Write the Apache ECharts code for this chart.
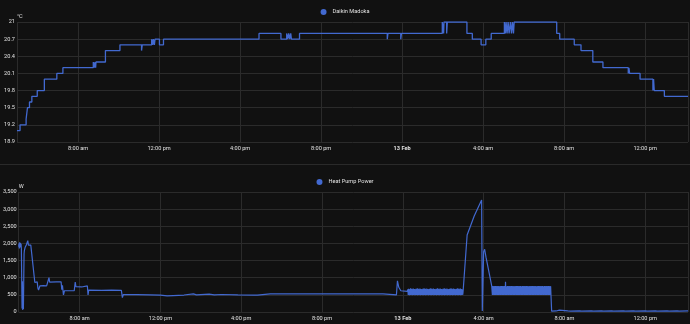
<!DOCTYPE html>
<html><head><meta charset="utf-8">
<script src="https://cdn.jsdelivr.net/npm/echarts@6/dist/echarts.min.js"></script>
<style>html,body{margin:0;padding:0;background:#111111;}#c{width:690px;height:324px;}</style>
</head><body><div id="c"></div>
<script>
// Series names and units
const tempName = 'Daikin Madoka';
const powerName = 'Heat Pump Power';
const tempUnit = '°C';
const powerUnit = 'W';
const dayLabel = '13 Feb';
// time range: minutes after 12 Feb 00:00
const rangeStart = 299, rangeEnd = 2287;
// Temperature change points [minute, °C]
const tempPoints = [[299,19.1],[308,19.2],[326,19.3],[330,19.5],[336,19.6],[343,19.7],[359,19.8],[380,20.0],[417,20.1],[435,20.2],[525,20.3],[528,20.2],[530,20.3],[532,20.2],[533,20.3],[561,20.5],[604,20.6],[668,20.5],[670,20.6],[698,20.7],[701,20.6],[703,20.7],[706,20.6],[708,20.7],[721,20.6],[733,20.7],[1016,20.8],[1081,20.7],[1098,20.8],[1101,20.7],[1104,20.8],[1107,20.7],[1110,20.8],[1112,20.7],[1136,20.8],[1396,20.7],[1398,20.8],[1436,20.7],[1438,20.8],[1559,21.0],[1563,20.8],[1564,21.0],[1572,20.8],[1574,21.0],[1632,20.8],[1648,20.7],[1674,20.6],[1688,20.7],[1704,20.8],[1743,21.0],[1746,20.8],[1748,21.0],[1751,20.8],[1754,21.0],[1757,20.8],[1761,21.0],[1764,20.8],[1767,21.0],[1770,20.8],[1772,21.0],[1898,20.8],[1907,20.7],[1950,20.6],[1970,20.5],[2005,20.3],[2035,20.2],[2110,20.1],[2112,20.2],[2114,20.1],[2145,20.0],[2183,19.8],[2185,20.0],[2187,19.8],[2217,19.7],[2287,19.7]];
// Power [minute, W]
const powerMorning = [[299,1900],[300,2000],[301,1850],[302,2030],[303,1880],[304,2010],[305,1900],[306,1990],[307,1850],[309,100],[310,900],[311,60],[312,700],[313,90],[315,1700],[316,1800],[318,1880],[320,1920],[322,1960],[324,2000],[326,2080],[328,1950],[330,1990],[332,1960],[335,1950],[347,860],[349,900],[354,880],[356,700],[358,640],[360,650],[362,760],[366,740],[372,770],[382,760],[386,740],[389,1000],[391,870],[411,880],[425,880],[427,650],[429,780],[432,500],[435,620],[447,620],[464,620],[467,870],[469,740],[486,730],[503,760],[505,500],[507,640],[545,630],[575,640],[604,630],[607,420],[610,510]];
const powerDay = [[650,505],[690,500],[720,490],[740,470],[758,480],[790,495],[818,530],[827,500],[865,520],[880,500],[901,510],[950,500],[1000,495],[1004,530],[1008,495],[1046,530],[1050,495],[1096,530],[1100,495],[1144,530],[1148,495],[1188,530],[1192,495],[1239,530],[1243,495],[1286,530],[1290,495],[1333,530],[1337,495],[1381,530],[1385,495],[1421,500],[1424,910],[1428,720],[1434,620],[1453,600]];
const powerNight = [[1455,660],[1456,495],[1457,680],[1458,505],[1459,650],[1460,490],[1461,670],[1462,500],[1463,690],[1464,495],[1465,660],[1466,505],[1467,675],[1468,490],[1469,655],[1470,500],[1471,685],[1472,495],[1473,665],[1474,505],[1475,670],[1476,490],[1477,650],[1478,500],[1479,680],[1480,495],[1481,660],[1482,505],[1483,690],[1484,490],[1485,665],[1486,500],[1487,675],[1488,495],[1489,655],[1490,505],[1491,685],[1492,490],[1493,660],[1494,500],[1495,670],[1496,495],[1497,650],[1498,505],[1499,680],[1500,490],[1501,665],[1502,500],[1503,690],[1504,495],[1505,660],[1506,505],[1507,675],[1508,490],[1509,655],[1510,500],[1511,685],[1512,495],[1513,665],[1514,505],[1515,670],[1516,490],[1517,650],[1518,500],[1519,680],[1520,495],[1521,660],[1522,505],[1523,690],[1524,490],[1525,665],[1526,500],[1527,675],[1528,495],[1529,655],[1530,505],[1531,685],[1532,490],[1533,660],[1534,500],[1535,670],[1536,495],[1537,650],[1538,505],[1539,680],[1540,490],[1541,665],[1542,500],[1543,690],[1544,495],[1545,660],[1546,505],[1547,675],[1548,490],[1549,655],[1550,500],[1551,685],[1552,495],[1553,665],[1554,505],[1555,670],[1556,490],[1557,650],[1558,500],[1559,680],[1560,495],[1561,660],[1562,505],[1563,690],[1564,490],[1565,665],[1566,500],[1567,675],[1568,495],[1569,655],[1570,505],[1571,685],[1572,490],[1573,660],[1574,500],[1575,670],[1576,495],[1577,650],[1578,505],[1579,680],[1580,490],[1581,665],[1582,500],[1583,690],[1584,495],[1585,660],[1586,505],[1587,675],[1588,490],[1589,655],[1590,500],[1591,685],[1592,495],[1593,665],[1594,505],[1595,670],[1596,490],[1597,650],[1598,500],[1599,680],[1600,495],[1601,660],[1602,505],[1603,690],[1604,490],[1605,665],[1606,500],[1607,675],[1608,495],[1609,655],[1610,505],[1611,685],[1612,490],[1613,660],[1614,500],[1615,670],[1616,495],[1617,650],[1618,505],[1619,600]];
const powerDefrost = [[1631,2245],[1652,2800],[1674,3270],[1676,30],[1680,1760],[1683,1830],[1687,1600],[1704,760]];
const powerDawn = [[1705,745],[1706,500],[1707,760],[1708,495],[1709,740],[1710,505],[1711,755],[1712,495],[1713,750],[1714,500],[1715,760],[1716,495],[1717,745],[1718,505],[1719,755],[1720,495],[1721,740],[1722,500],[1723,760],[1724,495],[1725,750],[1726,505],[1727,745],[1728,495],[1729,760],[1730,500],[1731,740],[1732,495],[1733,755],[1734,505],[1735,750],[1736,495],[1737,760],[1738,500],[1739,745],[1740,495],[1741,755],[1742,505],[1743,740],[1744,495],[1745,885],[1746,500],[1747,750],[1748,495],[1749,745],[1750,505],[1751,760],[1752,495],[1753,740],[1754,500],[1755,755],[1756,495],[1757,750],[1758,505],[1759,760],[1760,495],[1761,745],[1762,500],[1763,755],[1764,495],[1765,740],[1766,505],[1767,760],[1768,495],[1769,750],[1770,500],[1771,745],[1772,495],[1773,760],[1774,505],[1775,740],[1776,495],[1777,755],[1778,500],[1779,750],[1780,495],[1781,760],[1782,505],[1783,745],[1784,495],[1785,755],[1786,500],[1787,740],[1788,495],[1789,760],[1790,505],[1791,750],[1792,495],[1793,745],[1794,500],[1795,760],[1796,495],[1797,740],[1798,505],[1799,755],[1800,495],[1801,750],[1802,500],[1803,760],[1804,495],[1805,745],[1806,505],[1807,755],[1808,495],[1809,740],[1810,500],[1811,760],[1812,495],[1813,750],[1814,505],[1815,745],[1816,495],[1817,760],[1818,500],[1819,740],[1820,495],[1821,755],[1822,505],[1823,750],[1824,495],[1825,760],[1826,500],[1827,745],[1828,495],[1829,755],[1830,505],[1831,740],[1832,495],[1833,760],[1834,500],[1835,750],[1836,495],[1837,745],[1838,505],[1839,760],[1840,495],[1841,740],[1842,500],[1843,755],[1844,495],[1845,750],[1846,505],[1847,760],[1848,495],[1849,745],[1850,500],[1851,755],[1852,495],[1853,740],[1854,505],[1855,760],[1856,495],[1857,750],[1858,500],[1859,745],[1860,495],[1861,760],[1862,505],[1863,740],[1864,495],[1865,755],[1866,500],[1867,750],[1868,495],[1869,760],[1870,505],[1871,745],[1872,495],[1873,755],[1874,500],[1875,740],[1876,495],[1877,760],[1878,505],[1879,750],[1880,495]];
const powerTail = [[1882,25],[1895,30],[1905,55],[1908,25],[1930,30],[1935,55],[1938,25],[1965,30],[1968,55],[1971,25],[2000,30],[2003,55],[2006,25],[2030,30],[2033,55],[2036,25],[2060,30],[2063,55],[2066,25],[2095,30],[2098,55],[2101,25],[2125,30],[2128,55],[2131,25],[2160,30],[2163,55],[2166,25],[2190,30],[2193,55],[2196,25],[2225,30],[2228,55],[2231,25],[2255,30],[2258,55],[2261,25],[2287,30]];

const BASE = new Date(2025, 1, 12, 0, 0, 0).getTime();
const toTs = m => BASE + m * 60000;
const toData = arr => arr.map(p => [toTs(p[0]), p[1]]);
const powerPoints = [].concat(powerMorning, powerDay, powerNight, powerDefrost, powerDawn, powerTail);

const FONT = 'Roboto';
const TXT = '#e1e1e1';
const GRIDC = '#2b2b2b';
const LINEC = '#4269d0';
const FS = 5.6;
const H4 = 4 * 3600 * 1000;

function fmtTime(v) {
  const d = new Date(v);
  const h = d.getHours(), mi = d.getMinutes();
  if (h === 0 && mi === 0) return '{b|' + dayLabel + '}';
  const hh = h % 12 === 0 ? 12 : h % 12;
  return hh + ':' + String(mi).padStart(2, '0') + ' ' + (h < 12 ? 'am' : 'pm');
}
function xAxisOf(i) {
  return {
    type: 'time', gridIndex: i, min: toTs(rangeStart), max: toTs(rangeEnd),
    minInterval: H4, maxInterval: H4, splitNumber: 8,
    axisLine: {show: false}, axisTick: {show: false},
    splitLine: {show: true, lineStyle: {color: GRIDC, width: 1}},
    axisLabel: {color: TXT, fontSize: FS, fontFamily: FONT, margin: 4, formatter: fmtTime,
      showMinLabel: false, showMaxLabel: false,
      rich: {b: {fontWeight: 'bold', color: TXT, fontSize: FS, fontFamily: FONT}}}
  };
}
function yAxisOf(i, min, max, interval, unit) {
  return {
    type: 'value', gridIndex: i, min: min, max: max, interval: interval,
    name: unit, nameLocation: 'end', nameGap: 2,
    nameTextStyle: {color: TXT, fontSize: FS, fontFamily: FONT, align: 'left', verticalAlign: 'bottom'},
    axisLine: {show: false}, axisTick: {show: false},
    splitLine: {show: true, lineStyle: {color: GRIDC, width: 1}},
    axisLabel: {color: TXT, fontSize: FS, fontFamily: FONT, margin: 2}
  };
}
const legendBase = {left: 'center', icon: 'circle', itemWidth: 6, itemHeight: 6, itemGap: 5,
  textStyle: {color: TXT, fontSize: FS, fontFamily: FONT, padding: [0, 0, 0, 1]}};

const chart = echarts.init(document.getElementById('c'), null, {renderer: 'canvas'});
chart.setOption({
  backgroundColor: '#111111',
  animation: false,
  textStyle: {fontFamily: FONT},
  grid: [{left: 17, right: 2, top: 22, height: 120}, {left: 17, right: 2, top: 192, height: 120}],
  legend: [
    Object.assign({}, legendBase, {data: [tempName], top: 4}),
    Object.assign({}, legendBase, {data: [powerName], top: 174})
  ],
  xAxis: [xAxisOf(0), xAxisOf(1)],
  yAxis: [yAxisOf(0, 18.9, 21, 0.3, tempUnit), yAxisOf(1, 0, 3500, 500, powerUnit)],
  graphic: [{type: 'line', shape: {x1: 0, y1: 164.5, x2: 690, y2: 164.5}, style: {stroke: '#2a2a2a', lineWidth: 1}, silent: true}],
  series: [
    {name: tempName, type: 'line', xAxisIndex: 0, yAxisIndex: 0, step: 'end', showSymbol: false, symbol: 'none',
      color: LINEC, lineStyle: {width: 1.3, color: LINEC}, data: toData(tempPoints)},
    {name: powerName, type: 'line', xAxisIndex: 1, yAxisIndex: 1, showSymbol: false, symbol: 'none',
      color: LINEC, lineStyle: {width: 1.2, color: LINEC}, data: toData(powerPoints)}
  ]
});
</script></body></html>
